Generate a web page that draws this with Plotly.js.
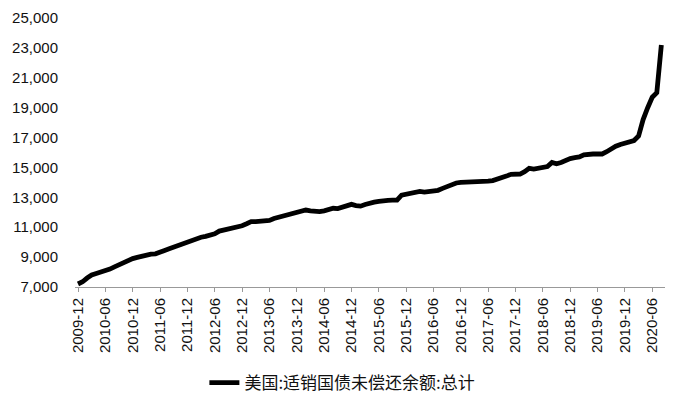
<!DOCTYPE html>
<html>
<head>
<meta charset="utf-8">
<script src="https://cdn.plot.ly/plotly-3.0.1.min.js"></script>
<style>
    html, body { margin: 0; padding: 0; background: #fff; }
    #chart { width: 678px; height: 412px; }
</style>
</head>
<body>
<div id="chart"></div>
<script>
// ============================================================================
// Data: US marketable Treasury debt outstanding, total (monthly, 2009-12 .. 2020-08).
const seriesName = "美国:适销国债未偿还余额:总计";
const startYear = 2009;
const startMonth = 12;

const debtValues = [
    7200, 7350, 7600, 7800, 7900, 8000, 8060, 8200, 8350, 8500, 8650, 8800,
    8900, 8980, 9080, 9160, 9200, 9220, 9300, 9450, 9560, 9680, 9780, 9930,
    10020, 10130, 10230, 10330, 10390, 10480, 10560, 10740, 10800, 10840, 10920, 11030,
    11100, 11230, 11370, 11380, 11380, 11390, 11450, 11580, 11650, 11720, 11800, 11860,
    11940, 12030, 12150, 12100, 12050, 12050, 12100, 12200, 12270, 12250, 12330, 12430,
    12530, 12450, 12410, 12520, 12640, 12680, 12730, 12790, 12800, 12810, 12810, 13150,
    13200, 13280, 13330, 13400, 13350, 13380, 13420, 13470, 13600, 13720, 13850, 13960,
    14000, 14000, 14000, 14010, 14080, 14080, 14080, 14120, 14200, 14290, 14420, 14540,
    14550, 14560, 14720, 14940, 14890, 14920, 14990, 15060, 15340, 15250, 15330, 15480,
    15590, 15650, 15700, 15850, 15910, 15900, 15900, 15900, 16050, 16250, 16420, 16540,
    16620, 16700, 16800, 17100, 18200, 19000, 19700, 20000, 23200,
];

// Tick labels every 6 months.
const tickLabels = [
    "2009-12", "2010-06", "2010-12", "2011-06", "2011-12", "2012-06",
    "2012-12", "2013-06", "2013-12", "2014-06", "2014-12", "2015-06",
    "2015-12", "2016-06", "2016-12", "2017-06", "2017-12", "2018-06",
    "2018-12", "2019-06", "2019-12", "2020-06",
];

const yTicks = [7000, 9000, 11000, 13000, 15000, 17000, 19000, 21000, 23000, 25000];

// ============================================================================
// Month categories "YYYY-MM", one per value.
const months = [];
for (let i = 0; i < debtValues.length; i++) {
    const total = startMonth - 1 + i;
    const y = startYear + Math.floor(total / 12);
    const m = (total % 12) + 1;
    months.push(`${y}-${m < 10 ? "0" + m : m}`);
}

const trace = {
    x: months,
    y: debtValues,
    type: "scatter",
    mode: "lines",
    name: seriesName,
    line: { color: "#000000", width: 4.8, shape: "linear" },
};

const layout = {
    width: 678,
    height: 412,
    margin: { l: 75, r: 13, t: 18, b: 125 },
    paper_bgcolor: "#ffffff",
    plot_bgcolor: "#ffffff",
    font: { family: "Liberation Sans, Arial, sans-serif", color: "#111111", size: 15 },
    showlegend: true,
    legend: {
        orientation: "h",
        xref: "container",
        yref: "container",
        x: 0.505,
        xanchor: "center",
        y: 1 - 383 / 412,
        yanchor: "middle",
        font: { family: "Noto Sans CJK SC, sans-serif", size: 17, color: "#111111" },
    },
    xaxis: {
        type: "category",
        range: [-0.66, 128.8],
        tickmode: "array",
        tickvals: tickLabels,
        ticktext: tickLabels,
        tickangle: -90,
        ticks: "outside",
        ticklen: 4,
        tickcolor: "#999999",
        showline: true,
        linecolor: "#999999",
        linewidth: 1,
        showgrid: false,
        zeroline: false,
        tickfont: { size: 15, color: "#111111" },
    },
    yaxis: {
        range: [7000, 25000],
        tickmode: "array",
        tickvals: yTicks,
        tickformat: ",d",
        showline: false,
        showgrid: false,
        zeroline: false,
        ticks: "",
        ticklabelstandoff: 16,
        tickfont: { size: 15, color: "#111111" },
    },
};

Plotly.newPlot("chart", [trace], layout, { displayModeBar: false, staticPlot: true });
</script>
</body>
</html>
